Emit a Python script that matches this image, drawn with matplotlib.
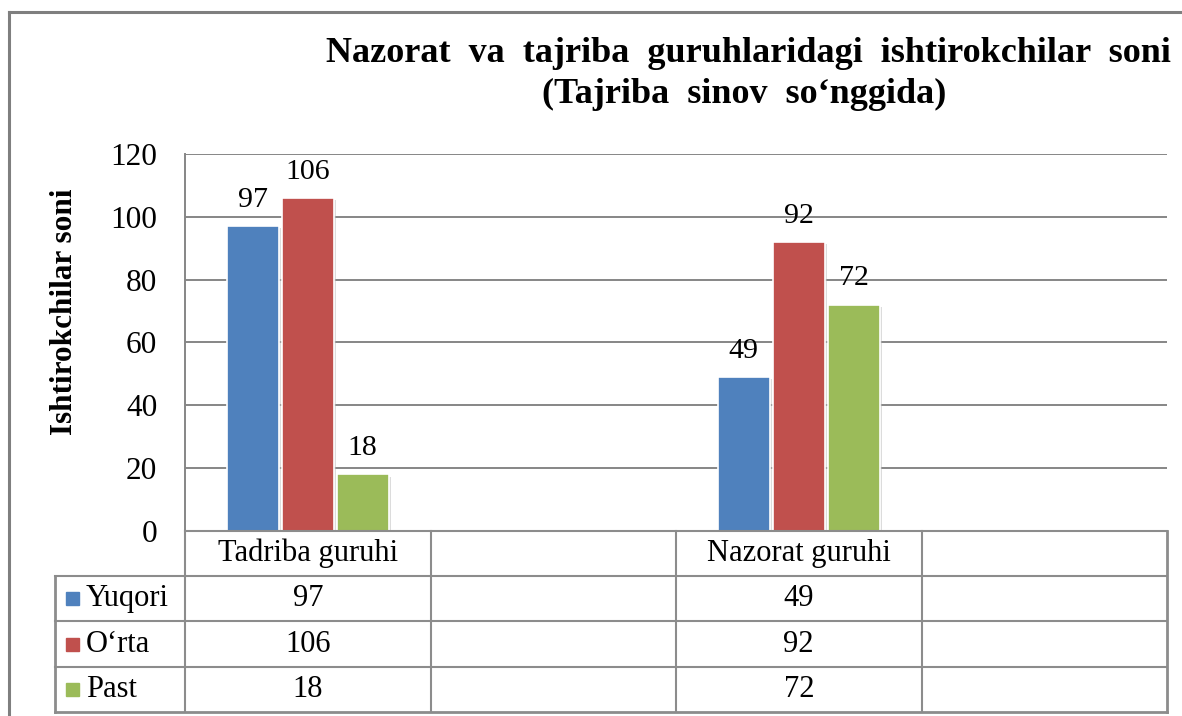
import numpy as np
import matplotlib
matplotlib.use("Agg")
import matplotlib.pyplot as plt
import matplotlib.patheffects as pe
from matplotlib.lines import Line2D
from matplotlib.patches import Rectangle
from matplotlib.transforms import blended_transform_factory

plt.rcParams['font.family'] = ['Liberation Serif', 'DejaVu Serif']

# data
kategoriyalar = ['Tadriba guruhi', '', 'Nazorat guruhi', '']
seriyalar = ['Yuqori', 'O\u2018rta', 'Past']
yuqori = [97, np.nan, 49, np.nan]
orta = [106, np.nan, 92, np.nan]
past = [18, np.nan, 72, np.nan]
qiymatlar = [yuqori, orta, past]
ranglar = ['#4F81BD', '#C0504D', '#9BBB59']
sarlavha1 = 'Nazorat  va  tajriba  guruhlaridagi  ishtirokchilar  soni'
sarlavha2 = '(Tajriba  sinov  so\u2018nggida)'
y_nomi = 'Ishtirokchilar soni'

W, H = 1182, 716
fig = plt.figure(figsize=(W / 100, H / 100), dpi=100)

# outer chart frame
chegara = '#7f7f7f'
fig.add_artist(Line2D([9 / W, 9 / W], [1 - 12 / H, 0], color=chegara, lw=2.2))
fig.add_artist(Line2D([9 / W, 1], [1 - 12 / H, 1 - 12 / H], color=chegara, lw=2.2))

ax = fig.add_axes([185 / W, (H - 531) / H, (1167 - 185) / W, (531 - 154) / H])
x = np.arange(len(kategoriyalar))
kenglik = 0.211
qadam = 0.224
for i, (nom, vals, rang) in enumerate(zip(seriyalar, qiymatlar, ranglar)):
    pos = x + (i - 1) * qadam
    ax.bar(pos, vals, width=kenglik, color=rang, edgecolor='white', linewidth=1.2, zorder=3,
           path_effects=[pe.SimplePatchShadow(offset=(1.5, -1.5), shadow_rgbFace='#bbbbbb', alpha=0.5),
                         pe.Normal()])
    for p, v in zip(pos, vals):
        if not np.isnan(v):
            ax.annotate(f'{v:g}', (p, v), xytext=(0, 14), textcoords='offset points',
                        ha='center', va='baseline', fontsize=21.5)

ax.set_xlim(-0.5, len(kategoriyalar) - 0.5)
ax.set_ylim(0, 120)
ax.set_yticks(range(0, 121, 20))
ax.tick_params(axis='y', length=0, pad=20, labelsize=22.5)
ax.set_xticks([])
ax.yaxis.grid(True, color='#868686', lw=1.4, zorder=0)
for s in ['top', 'right', 'bottom']:
    ax.spines[s].set_visible(False)
ax.spines['left'].set_color('#868686')
ax.spines['left'].set_linewidth(1.4)

# y axis title, placed in figure pixels
fig.text(65 / W, 1 - 312 / H, y_nomi, rotation=90, ha='center', va='center',
         fontsize=22.5, fontweight='bold')

# data table under the chart
tr = blended_transform_factory(ax.transData, fig.transFigure)
jadval = '#8c8c8c'
qator_y = [531, 576, 621, 667, 712]
yf = [1 - v / H for v in qator_y]
chap = 55 / W
x0 = -0.5
x1 = len(kategoriyalar) - 0.5
fig.add_artist(Line2D([x0, x1], [yf[0], yf[0]], transform=tr, color=jadval, lw=1.5))
for yy in yf[1:]:
    fig.add_artist(Line2D([chap, 1167 / W], [yy, yy], color=jadval, lw=2 if yy == yf[-1] else 1.5))
for xb in np.arange(len(kategoriyalar) + 1) - 0.5:
    fig.add_artist(Line2D([xb, xb], [yf[0], yf[-1]], transform=tr, color=jadval,
                          lw=2 if xb == x1 else 1.5))
fig.add_artist(Line2D([chap, chap], [yf[1], yf[-1]], color=jadval, lw=2))

for j, k in enumerate(kategoriyalar):
    fig.text(j, (yf[0] + yf[1]) / 2, k, transform=tr, ha='center', va='center', fontsize=22)
for i, (nom, vals, rang) in enumerate(zip(seriyalar, qiymatlar, ranglar)):
    yc = (yf[i + 1] + yf[i + 2]) / 2
    fig.add_artist(Rectangle((66 / W, yc - 6.5 / H), 13 / W, 13 / H, color=rang, transform=fig.transFigure))
    fig.text(86 / W, yc, nom, ha='left', va='center', fontsize=22)
    for j, v in enumerate(vals):
        if not np.isnan(v):
            fig.text(j, yc, f'{v:g}', transform=tr, ha='center', va='center', fontsize=22)

# title
fig.text(748 / W, 1 - 62 / H, sarlavha1, ha='center', va='baseline', fontsize=26, fontweight='bold')
fig.text(744 / W, 1 - 103 / H, sarlavha2, ha='center', va='baseline', fontsize=26, fontweight='bold')

fig.savefig('out.png', dpi=100)
